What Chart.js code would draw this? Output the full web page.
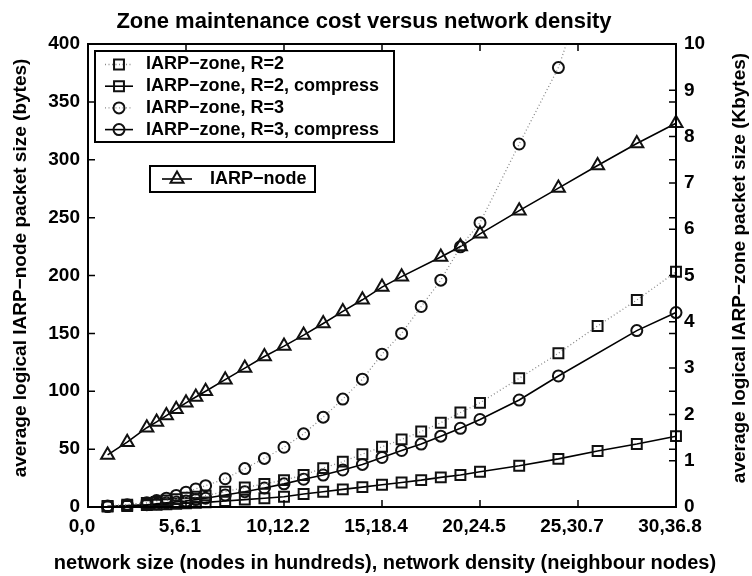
<!DOCTYPE html>
<html>
<head>
<meta charset="utf-8">
<title>Zone maintenance cost versus network density</title>
<script src="https://cdn.jsdelivr.net/npm/chart.js@4.4.1/dist/chart.umd.min.js"></script>
<style>
    html, body { margin: 0; padding: 0; background: #fff; }
    #wrap { width: 752px; height: 576px; position: relative; }
</style>
</head>
<body>
<div id="wrap"><canvas id="zoneChart"></canvas></div>
<script>
// network size in hundreds of nodes
const networkSize = [1, 2, 3, 3.5, 4, 4.5, 5, 5.5, 6, 7, 8, 9, 10, 11, 12, 13, 14, 15, 16, 17, 18, 19, 20, 22, 24, 26, 28, 30];
const xTickLabels = ['0,0', '5,6.1', '10,12.2', '15,18.4', '20,24.5', '25,30.7', '30,36.8'];

// IARP-node, bytes (left axis)
const iarpNode = [45, 56, 68.5, 73.5, 79, 84.5, 90, 95, 100, 110, 120, 130, 139, 148.5, 158.5, 169, 179, 190, 199, null, 216, 225, 236, 256, 275.5, 295, 314, 331.5];

// IARP-zone, Kbytes (right axis)
const zoneR2 = [0.02, 0.05, 0.09, 0.11, 0.14, 0.17, 0.20, 0.22, 0.25, 0.33, 0.42, 0.50, 0.58, 0.69, 0.84, 0.98, 1.14, 1.30, 1.46, 1.63, 1.82, 2.04, 2.25, 2.78, 3.32, 3.91, 4.47, 5.08];
const zoneR2Compress = [0.01, 0.02, 0.04, 0.05, 0.06, 0.07, 0.08, 0.09, 0.10, 0.13, 0.16, 0.19, 0.22, 0.28, 0.33, 0.38, 0.43, 0.48, 0.53, 0.58, 0.64, 0.69, 0.76, 0.89, 1.04, 1.21, 1.36, 1.53];
const zoneR3 = [0.02, 0.05, 0.09, 0.14, 0.19, 0.25, 0.32, 0.39, 0.46, 0.61, 0.83, 1.05, 1.29, 1.58, 1.94, 2.33, 2.76, 3.30, 3.75, 4.33, 4.90, 5.62, 6.14, 7.84, 9.49, 12.0, null, null];
const zoneR3Compress = [0.01, 0.03, 0.05, 0.07, 0.09, 0.11, 0.13, 0.16, 0.19, 0.26, 0.33, 0.41, 0.50, 0.60, 0.69, 0.80, 0.92, 1.07, 1.22, 1.36, 1.53, 1.70, 1.89, 2.31, 2.83, null, 3.81, 4.20];

const FONT = "'Liberation Sans', Arial, Helvetica, sans-serif";
const INK = '#111';
const NONE = 'rgba(0,0,0,0)';

const toPoints = (values) => networkSize.map((x, i) => ({ x, y: values[i] }));

const dotted = { borderColor: '#8a8a8a', borderWidth: 1.3, borderDash: [1, 2.5] };
const solid = { borderColor: '#000', borderWidth: 1.6, borderDash: [] };

// let markers on the frame show whole, but cut lines that leave through the top
const markerClip = { left: 10, right: 10, top: 10, bottom: 10 };

function series(label, values, axis, line, pointStyle, radius, clip = markerClip) {
    return {
        label,
        data: toPoints(values),
        yAxisID: axis,
        ...line,
        pointStyle,
        pointRadius: radius,
        pointHoverRadius: radius,
        pointBorderColor: INK,
        pointBorderWidth: 2,
        pointBackgroundColor: NONE,
        spanGaps: true,
        tension: 0,
        clip,
    };
}

const datasets = [
    series('IARP\u2212zone, R=2', zoneR2, 'y2', dotted, 'rect', 7),
    series('IARP\u2212zone, R=2, compress', zoneR2Compress, 'y2', solid, 'rect', 7),
    series('IARP\u2212zone, R=3', zoneR3, 'y2', dotted, 'circle', 5.5, { left: 10, right: 10, top: 0, bottom: 10 }),
    series('IARP\u2212zone, R=3, compress', zoneR3Compress, 'y2', solid, 'circle', 5.5),
    series('IARP\u2212node', iarpNode, 'y', solid, 'triangle', 7.5),
];

// frame, inward tick marks, titles and the two legend boxes
const decorations = {
    id: 'decorations',
    afterDraw(chart) {
        const { ctx, chartArea: a, scales } = chart;
        ctx.save();
        ctx.strokeStyle = '#000';
        ctx.lineWidth = 2;
        ctx.strokeRect(a.left, a.top, a.right - a.left, a.bottom - a.top);

        ctx.lineWidth = 1.5;
        ctx.beginPath();
        for (let v = 5; v < 30; v += 5) {
            const px = scales.x.getPixelForValue(v);
            ctx.moveTo(px, a.bottom); ctx.lineTo(px, a.bottom - 7);
            ctx.moveTo(px, a.top); ctx.lineTo(px, a.top + 7);
        }
        for (let v = 50; v < 400; v += 50) {
            const py = scales.y.getPixelForValue(v);
            ctx.moveTo(a.left, py); ctx.lineTo(a.left + 7, py);
            ctx.moveTo(a.right, py); ctx.lineTo(a.right - 7, py);
        }
        for (let v = 1; v < 10; v++) {
            const py = scales.y2.getPixelForValue(v);
            ctx.moveTo(a.right, py); ctx.lineTo(a.right - 7, py);
        }
        ctx.stroke();

        ctx.fillStyle = '#000';
        ctx.textAlign = 'center';
        ctx.textBaseline = 'middle';
        ctx.font = `bold 22px ${FONT}`;
        ctx.fillText('Zone maintenance cost versus network density', 364, 22);

        ctx.font = `bold 20px ${FONT}`;
        ctx.fillText('network size (nodes in hundreds), network density (neighbour nodes)', 385, 563);

        ctx.font = `bold 19px ${FONT}`;
        ctx.save();
        ctx.translate(21, 268);
        ctx.rotate(-Math.PI / 2);
        ctx.fillText('average logical IARP\u2212node packet size (bytes)', 0, 0);
        ctx.restore();

        ctx.save();
        ctx.translate(740, 268);
        ctx.rotate(-Math.PI / 2);
        ctx.fillText('average logical IARP\u2212zone packet size (Kbytes)', 0, 0);
        ctx.restore();

        const drawBox = (box, items) => {
            ctx.fillStyle = '#fff';
            ctx.fillRect(box.x, box.y, box.w, box.h);
            ctx.strokeStyle = '#000';
            ctx.lineWidth = 2;
            ctx.setLineDash([]);
            ctx.strokeRect(box.x, box.y, box.w, box.h);
            items.forEach((idx, row) => {
                const ds = chart.data.datasets[idx];
                const y = box.y + box.first + row * box.step;
                ctx.strokeStyle = ds.borderColor;
                ctx.lineWidth = ds.borderWidth;
                ctx.setLineDash(ds.borderDash);
                ctx.beginPath();
                ctx.moveTo(box.x + box.l0, y);
                ctx.lineTo(box.x + box.l1, y);
                ctx.stroke();
                ctx.setLineDash([]);
                ctx.strokeStyle = INK;
                ctx.fillStyle = NONE;
                ctx.lineWidth = 2;
                Chart.helpers.drawPoint(ctx, { pointStyle: ds.pointStyle, radius: ds.pointRadius, borderWidth: 2 }, box.x + (box.l0 + box.l1) / 2, y);
                ctx.fillStyle = '#000';
                ctx.textAlign = 'left';
                ctx.textBaseline = 'middle';
                ctx.font = `bold 18px ${FONT}`;
                ctx.fillText(ds.label, box.x + box.tx, y);
            });
        };

        drawBox({ x: 95, y: 51, w: 299, h: 91, first: 13.5, step: 21.7, l0: 10, l1: 38, tx: 51 }, [0, 1, 2, 3]);
        drawBox({ x: 150, y: 166, w: 165, h: 26, first: 13, step: 0, l0: 12, l1: 42, tx: 60 }, [4]);

        ctx.restore();
    },
};

Chart.defaults.color = '#000';
Chart.defaults.font.family = FONT;

const tickFont = { family: FONT, size: 19, weight: 'bold' };

new Chart(document.getElementById('zoneChart'), {
    type: 'line',
    data: { datasets },
    options: {
        responsive: true,
        maintainAspectRatio: false,
        animation: false,
        layout: { padding: { top: 44, left: 0, right: 0, bottom: 0 } },
        plugins: {
            legend: { display: false },
            title: { display: false },
            tooltip: { enabled: false },
        },
        scales: {
            x: {
                type: 'linear',
                min: 0,
                max: 30,
                grid: { display: false, drawTicks: false },
                border: { display: false },
                ticks: {
                    stepSize: 5,
                    padding: 8,
                    labelOffset: -6,
                    maxRotation: 0,
                    font: tickFont,
                    callback: (v) => xTickLabels[v / 5],
                },
                afterFit: (s) => { s.height = 69; },
            },
            y: {
                position: 'left',
                min: 0,
                max: 400,
                grid: { display: false, drawTicks: false },
                border: { display: false },
                ticks: { stepSize: 50, padding: 8, font: tickFont },
                afterFit: (s) => { s.width = 88; },
            },
            y2: {
                position: 'right',
                min: 0,
                max: 10,
                grid: { display: false, drawTicks: false },
                border: { display: false },
                ticks: { stepSize: 1, padding: 8, font: tickFont },
                afterFit: (s) => { s.width = 76; },
            },
        },
    },
    plugins: [decorations],
});
</script>
</body>
</html>
